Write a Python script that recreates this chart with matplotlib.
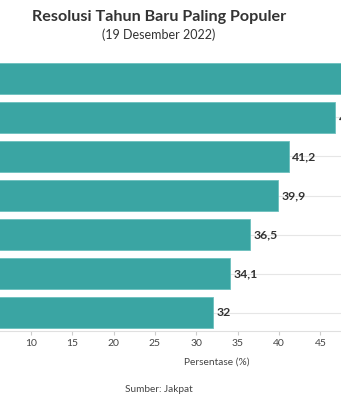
import matplotlib
matplotlib.use('Agg')
import matplotlib.pyplot as plt

# data (top to bottom); the first bar runs past the visible frame
categories = ['Resolusi 1', 'Resolusi 2', 'Resolusi 3', 'Resolusi 4',
              'Resolusi 5', 'Resolusi 6', 'Resolusi 7']
values = [52.9, 46.8, 41.2, 39.9, 36.5, 34.1, 32.0]
xticks = [10, 15, 20, 25, 30, 35, 40, 45]

plt.rcParams['font.family'] = ['Lato', 'DejaVu Sans']

W, H = 341, 400
fig = plt.figure(figsize=(W / 100, H / 100), dpi=100)
fig.patch.set_facecolor('white')

# plot area is wider than the picture (cropped chart), pixel coords
left_px, right_px, top_px, bottom_px = -52, 486, 60, 331
ax = fig.add_axes([left_px / W, 1 - bottom_px / H,
                   (right_px - left_px) / W, (bottom_px - top_px) / H])

ypos = list(range(len(values)))
ax.barh(ypos, values, height=0.8, color='#3aa5a3', edgecolor='#6cc0be',
        linewidth=0.6, zorder=3)

for y, v in zip(ypos, values):
    txt = ('%.1f' % v).rstrip('0').rstrip('.').replace('.', ',')
    ax.text(v + 0.4, y, txt, va='center', ha='left', fontsize=8.8,
            fontweight='bold', color='#333333', zorder=4)

ax.set_xlim(0, 65)
ax.set_ylim(len(values) - 0.526, -0.474)
ax.set_xticks(xticks)
ax.set_yticks(ypos)
ax.set_yticklabels([])
ax.tick_params(axis='y', length=0)
ax.tick_params(axis='x', length=3, color='#cccccc', labelsize=7.5,
               labelcolor='#444444', pad=3)
ax.grid(axis='y', color='#e6e6e6', linewidth=0.8, zorder=0)
ax.grid(axis='x', visible=False)
for s in ['top', 'right', 'left']:
    ax.spines[s].set_visible(False)
ax.spines['bottom'].set_color('#e0e0e0')
ax.set_facecolor('white')

fig.text(217 / W, 1 - 362 / H, 'Persentase (%)', ha='center', va='center',
         fontsize=7.3, color='#444444')
fig.text(159 / W, 1 - 17 / H, 'Resolusi Tahun Baru Paling Populer',
         ha='center', va='center', fontsize=11.6, fontweight='bold',
         color='#333333')
fig.text(159 / W, 1 - 35 / H, '(19 Desember 2022)', ha='center',
         va='center', fontsize=9, color='#333333')
fig.text(159 / W, 1 - 389 / H, 'Sumber: Jakpat', ha='center', va='center',
         fontsize=7.2, color='#444444')

fig.savefig('out.png', dpi=100, facecolor='white')
